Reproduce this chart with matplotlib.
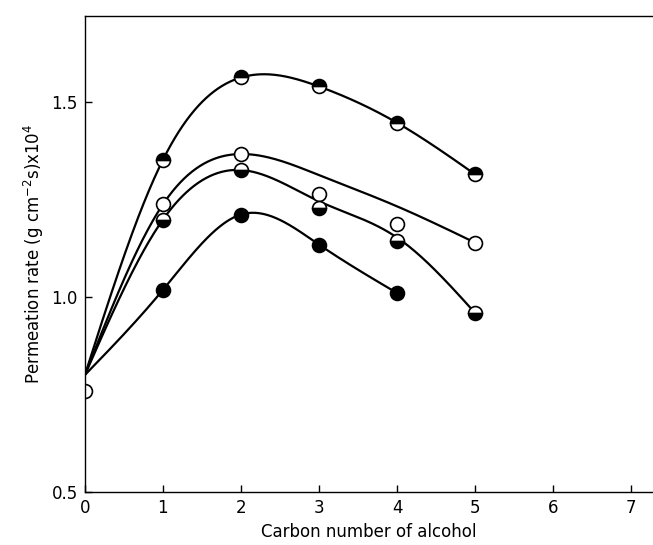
import numpy as np
import matplotlib
matplotlib.use("Agg")
import matplotlib.pyplot as plt

# carbon number of alcohol
carbon = [1, 2, 3, 4, 5]
carbon_filled = [1, 2, 3, 4]

# measured permeation rates (x10^4 g cm^-2 s^-1)
rate_top_half = [1.351, 1.562, 1.539, 1.446, 1.314]
rate_open = [1.237, 1.366, 1.263, 1.186, 1.139]
rate_bottom_half = [1.198, 1.325, 1.229, 1.144, 0.959]
rate_filled = [1.018, 1.211, 1.134, 1.010]

# water (carbon number 0)
water_x = [0]
water_rate = [0.76]

# smooth curves as drawn in the figure, read at integer carbon numbers
curve_x = [0, 1, 2, 3, 4, 5]
curve_x_filled = [0, 1, 2, 3, 4]
curve_top_half = [0.80, 1.351, 1.562, 1.539, 1.446, 1.314]
curve_open = [0.80, 1.237, 1.366, 1.312, 1.232, 1.139]
curve_bottom_half = [0.80, 1.198, 1.325, 1.245, 1.152, 0.959]
curve_filled = [0.80, 1.018, 1.211, 1.134, 1.010]

fig = plt.figure(figsize=(6.53, 5.45), dpi=100)
ax = fig.add_axes([0.130, 0.097, 0.870, 0.874])


def natural_spline(xs, ys, num=300):
    # natural cubic spline through the knots, just for a smooth hand-drawn look
    x = np.asarray(xs, float)
    y = np.asarray(ys, float)
    n = len(x)
    h = np.diff(x)
    A = np.zeros((n, n))
    b = np.zeros(n)
    A[0, 0] = A[-1, -1] = 1
    for i in range(1, n - 1):
        A[i, i - 1] = h[i - 1]
        A[i, i] = 2 * (h[i - 1] + h[i])
        A[i, i + 1] = h[i]
        b[i] = 6 * ((y[i + 1] - y[i]) / h[i] - (y[i] - y[i - 1]) / h[i - 1])
    M = np.linalg.solve(A, b)
    xx = np.linspace(x[0], x[-1], num)
    k = np.clip(np.searchsorted(x, xx) - 1, 0, n - 2)
    t0 = x[k + 1] - xx
    t1 = xx - x[k]
    hk = h[k]
    yy = (M[k] * t0**3 / (6 * hk) + M[k + 1] * t1**3 / (6 * hk)
          + (y[k] / hk - M[k] * hk / 6) * t0 + (y[k + 1] / hk - M[k + 1] * hk / 6) * t1)
    return xx, yy


for cx, cy in [(curve_x, curve_top_half), (curve_x, curve_open),
               (curve_x, curve_bottom_half), (curve_x_filled, curve_filled)]:
    xx, yy = natural_spline(cx, cy)
    ax.plot(xx, yy, color="black", lw=1.6, zorder=2)

mk = dict(marker="o", ms=10, mec="black", mew=1.2, ls="none", zorder=3)
ax.plot(carbon, rate_top_half, fillstyle="top", mfc="black", markerfacecoloralt="white", **mk)
ax.plot(carbon, rate_open, mfc="white", **mk)
ax.plot(carbon, rate_bottom_half, fillstyle="bottom", mfc="black", markerfacecoloralt="white", **mk)
ax.plot(carbon_filled, rate_filled, mfc="black", **mk)
# water point sits on the axis
ax.plot(water_x, water_rate, mfc="white", **mk)

ax.set_xlim(0, 7.28)
ax.set_ylim(0.5, 1.72)
ax.set_xticks(range(8))
ax.set_yticks([0.5, 1.0, 1.5])
ax.set_yticklabels(["0.5", "1.0", "1.5"])
ax.tick_params(direction="in", length=5, width=1, labelsize=12, pad=5)
ax.spines["right"].set_visible(False)
for s in ["left", "bottom", "top"]:
    ax.spines[s].set_linewidth(1.0)
    ax.spines[s].set_zorder(4)

ax.set_xlabel("Carbon number of alcohol", fontsize=12)
ax.set_ylabel(r"Permeation rate (g cm$^{-2}$s)x10$^{4}$", fontsize=12)

fig.savefig("out.png", dpi=100)
